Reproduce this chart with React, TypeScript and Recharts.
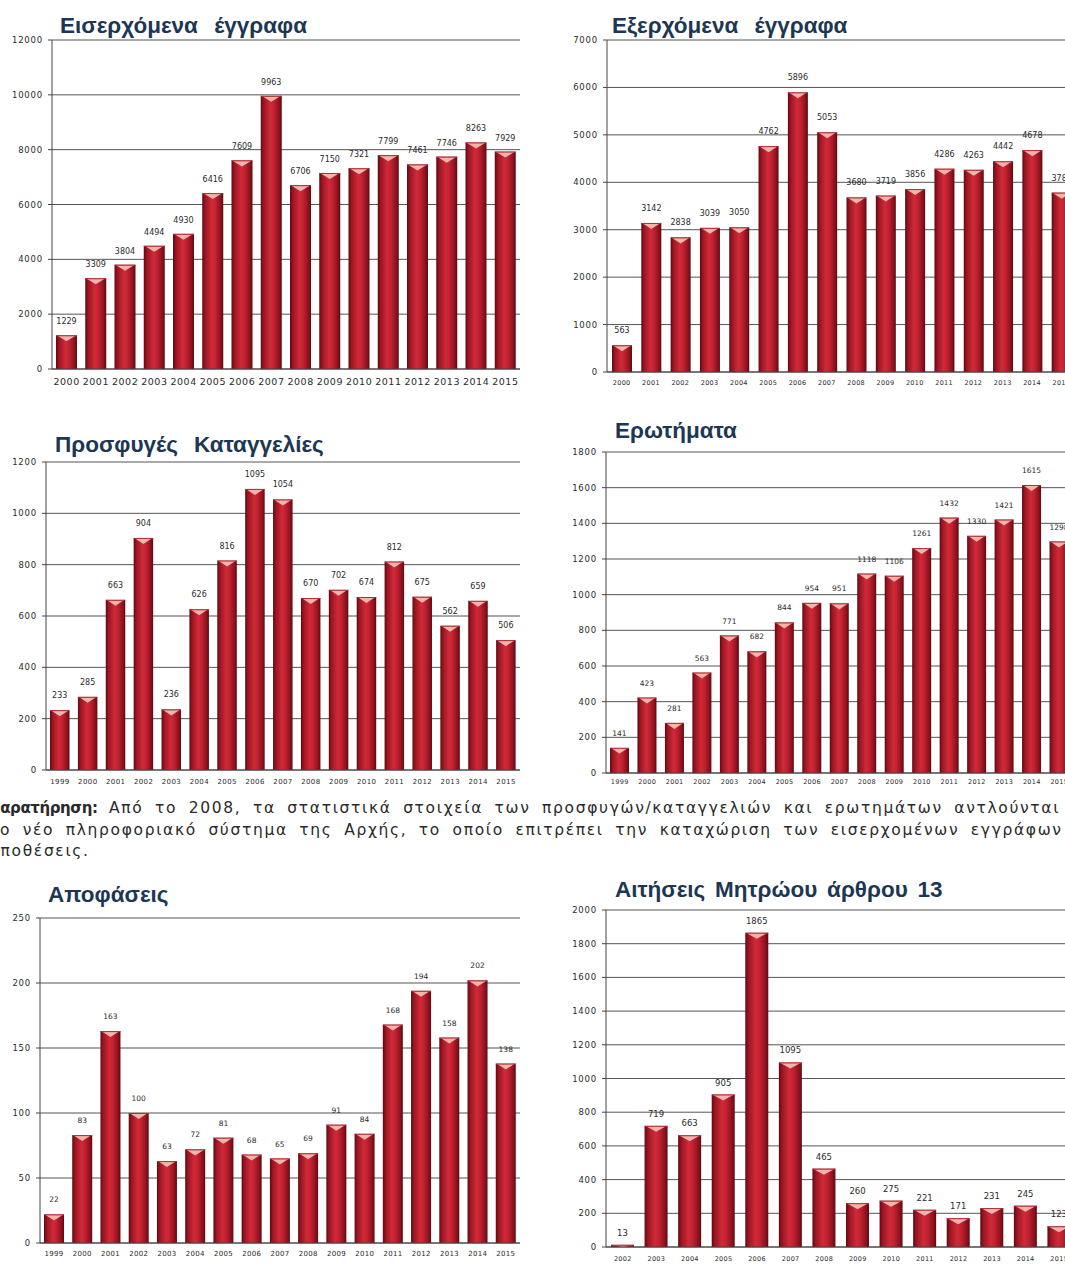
import React from 'react';
import { BarChart, Bar, XAxis, YAxis, CartesianGrid, LabelList } from 'recharts';

// Εισερχόμενα έγγραφα
const incomingYears = ['2000', '2001', '2002', '2003', '2004', '2005', '2006', '2007', '2008', '2009', '2010', '2011', '2012', '2013', '2014', '2015'];
const incomingValues = [1229, 3309, 3804, 4494, 4930, 6416, 7609, 9963, 6706, 7150, 7321, 7799, 7461, 7746, 8263, 7929];
const incomingTicks = [0, 2000, 4000, 6000, 8000, 10000, 12000];

// Εξερχόμενα έγγραφα
const outgoingYears = ['2000', '2001', '2002', '2003', '2004', '2005', '2006', '2007', '2008', '2009', '2010', '2011', '2012', '2013', '2014', '2015'];
const outgoingValues = [563, 3142, 2838, 3039, 3050, 4762, 5896, 5053, 3680, 3719, 3856, 4286, 4263, 4442, 4678, 3782];
const outgoingTicks = [0, 1000, 2000, 3000, 4000, 5000, 6000, 7000];

// Προσφυγές Καταγγελίες
const complaintYears = ['1999', '2000', '2001', '2002', '2003', '2004', '2005', '2006', '2007', '2008', '2009', '2010', '2011', '2012', '2013', '2014', '2015'];
const complaintValues = [233, 285, 663, 904, 236, 626, 816, 1095, 1054, 670, 702, 674, 812, 675, 562, 659, 506];
const complaintTicks = [0, 200, 400, 600, 800, 1000, 1200];

// Ερωτήματα
const queryYears = ['1999', '2000', '2001', '2002', '2003', '2004', '2005', '2006', '2007', '2008', '2009', '2010', '2011', '2012', '2013', '2014', '2015'];
const queryValues = [141, 423, 281, 563, 771, 682, 844, 954, 951, 1118, 1106, 1261, 1432, 1330, 1421, 1615, 1298];
const queryTicks = [0, 200, 400, 600, 800, 1000, 1200, 1400, 1600, 1800];

// Αποφάσεις
const decisionYears = ['1999', '2000', '2001', '2002', '2003', '2004', '2005', '2006', '2007', '2008', '2009', '2010', '2011', '2012', '2013', '2014', '2015'];
const decisionValues = [22, 83, 163, 100, 63, 72, 81, 68, 65, 69, 91, 84, 168, 194, 158, 202, 138];
const decisionTicks = [0, 50, 100, 150, 200, 250];

// Αιτήσεις Μητρώου άρθρου 13
const registryYears = ['2002', '2003', '2004', '2005', '2006', '2007', '2008', '2009', '2010', '2011', '2012', '2013', '2014', '2015'];
const registryValues = [13, 719, 663, 905, 1865, 1095, 465, 260, 275, 221, 171, 231, 245, 123];
const registryTicks = [0, 200, 400, 600, 800, 1000, 1200, 1400, 1600, 1800, 2000];

const TITLE_COLOR = '#1c3753';
const TEXT_COLOR = '#2b2b2b';
const GRID_COLOR = '#555';

interface PanelProps {
    id: string;
    title: string;
    titleWordSpacing: number;
    years: string[];
    values: number[];
    ticks: number[];
    plotLeft: number;
    plotTop: number;
    plotRight: number;
    plotBottom: number;
    barSize: number;
    xFont: number;
    xSpacing: number;
    xGap: number;
    yFont: number;
    labelFont: number;
    labelOffset: number;
    titleX: number;
    titleBaseline: number;
}

// bar drawn like the old Excel cylinder: dark edges, bright middle, pale cap
const CylinderBar = (props: any) => {
    const { x, y, width, height, gid } = props;
    if (!height || height <= 0) return null;
    const capH = Math.min(6, height);
    return (
        <g>
            <rect x={x} y={y} width={width} height={height} fill={`url(#${gid})`} />
            <path
                d={`M${x + 1.5},${y + 0.5} L${x + width - 1.5},${y + 0.5} L${x + width / 2},${y + capH} Z`}
                fill="#f3b4aa"
            />
            <line x1={x} x2={x + width} y1={y + 0.5} y2={y + 0.5} stroke="#b0303a" strokeWidth={1} />
        </g>
    );
};

const Panel: React.FC<PanelProps> = (p) => {
    const data = p.years.map((year, i) => ({ year, value: p.values[i] }));
    const yW = 44;
    const marginTop = 24;
    const xH = 22;
    const width = yW + (p.plotRight - p.plotLeft) + 4;
    const height = marginTop + (p.plotBottom - p.plotTop) + xH;
    const max = p.ticks[p.ticks.length - 1];
    const gid = `cyl-${p.id}`;
    return (
        <>
            <div
                style={{
                    position: 'absolute',
                    left: p.titleX,
                    top: p.titleBaseline - 18.5,
                    fontFamily: '"Liberation Sans", Arial, sans-serif',
                    fontWeight: 'bold',
                    fontSize: 22.5,
                    lineHeight: '22px',
                    wordSpacing: p.titleWordSpacing,
                    color: TITLE_COLOR,
                    whiteSpace: 'nowrap',
                }}
            >
                {p.title}
            </div>
            <div style={{ position: 'absolute', left: p.plotLeft - yW, top: p.plotTop - marginTop }}>
                <BarChart
                    width={width}
                    height={height}
                    data={data}
                    margin={{ top: marginTop, right: 4, bottom: 0, left: 0 }}
                    barCategoryGap={0}
                >
                    <defs>
                        <linearGradient id={gid} x1="0" y1="0" x2="1" y2="0">
                            <stop offset="0%" stopColor="#5c0a12" />
                            <stop offset="14%" stopColor="#9c1522" />
                            <stop offset="45%" stopColor="#cf2a38" />
                            <stop offset="62%" stopColor="#c42232" />
                            <stop offset="88%" stopColor="#8c121d" />
                            <stop offset="100%" stopColor="#5c0a12" />
                        </linearGradient>
                    </defs>
                    <CartesianGrid vertical={false} stroke={GRID_COLOR} strokeWidth={1} />
                    <XAxis
                        dataKey="year"
                        interval={0}
                        height={xH}
                        tickLine={false}
                        tickSize={0}
                        tickMargin={p.xGap}
                        axisLine={{ stroke: '#444' }}
                        tick={{ fill: TEXT_COLOR, fontSize: p.xFont, fontFamily: 'DejaVu Sans', letterSpacing: p.xSpacing }}
                    />
                    <YAxis
                        type="number"
                        domain={[0, max]}
                        ticks={p.ticks}
                        interval={0}
                        width={yW}
                        tickSize={4}
                        tickMargin={5}
                        axisLine={{ stroke: '#444' }}
                        tickLine={{ stroke: '#444' }}
                        tick={{ fill: TEXT_COLOR, fontSize: p.yFont, fontFamily: 'DejaVu Sans', letterSpacing: 0.8 }}
                    />
                    <Bar
                        dataKey="value"
                        barSize={p.barSize}
                        isAnimationActive={false}
                        shape={(sp: any) => <CylinderBar {...sp} gid={gid} />}
                    >
                        <LabelList
                            dataKey="value"
                            position="top"
                            offset={p.labelOffset}
                            fill={TEXT_COLOR}
                            fontSize={p.labelFont}
                            fontFamily="DejaVu Sans"
                        />
                    </Bar>
                </BarChart>
            </div>
        </>
    );
};

const noteStyle: React.CSSProperties = {
    position: 'absolute',
    fontFamily: '"DejaVu Sans", Verdana, sans-serif',
    fontSize: 15.5,
    lineHeight: '21.7px',
    letterSpacing: 1.65,
    wordSpacing: 5,
    color: '#2a2a2a',
    whiteSpace: 'nowrap',
};

export default function App() {
    return (
        <div
            style={{
                position: 'absolute',
                left: 0,
                top: 0,
                width: 1065,
                height: 1265,
                overflow: 'hidden',
                background: '#fff',
            }}
        >
            <Panel
                id="in" title="Εισερχόμενα έγγραφα" titleWordSpacing={10} years={incomingYears} values={incomingValues} ticks={incomingTicks}
                plotLeft={52} plotTop={40} plotRight={520} plotBottom={369}
                barSize={21} xFont={9.5} xSpacing={0.5} xGap={9} yFont={8.5} labelFont={8} labelOffset={11}
                titleX={60} titleBaseline={33}
            />
            <Panel
                id="out" title="Εξερχόμενα έγγραφα" titleWordSpacing={10} years={outgoingYears} values={outgoingValues} ticks={outgoingTicks}
                plotLeft={607} plotTop={40} plotRight={1076} plotBottom={372}
                barSize={20} xFont={6.5} xSpacing={0.3} xGap={8} yFont={8.5} labelFont={8} labelOffset={12}
                titleX={612} titleBaseline={33}
            />
            <Panel
                id="comp" title="Προσφυγές Καταγγελίες" titleWordSpacing={10} years={complaintYears} values={complaintValues} ticks={complaintTicks}
                plotLeft={46} plotTop={462} plotRight={520} plotBottom={770}
                barSize={19.5} xFont={7} xSpacing={0.4} xGap={9} yFont={8.5} labelFont={8} labelOffset={12}
                titleX={55} titleBaseline={452}
            />
            <Panel
                id="q" title="Ερωτήματα" titleWordSpacing={0} years={queryYears} values={queryValues} ticks={queryTicks}
                plotLeft={606} plotTop={452} plotRight={1073} plotBottom={773}
                barSize={19} xFont={6.5} xSpacing={0.3} xGap={6} yFont={8.5} labelFont={7.5} labelOffset={12}
                titleX={615} titleBaseline={438}
            />
            <div style={{ ...noteStyle, left: -12, top: 798 }}>
                <b style={{ letterSpacing: -0.4, fontSize: 15 }}>Παρατήρηση:</b> Από το 2008, τα στατιστικά στοιχεία των προσφυγών/καταγγελιών και ερωτημάτων αντλούνται από
            </div>
            <div style={{ ...noteStyle, left: -11, top: 820 }}>
                το νέο πληροφοριακό σύστημα της Αρχής, το οποίο επιτρέπει την καταχώριση των εισερχομένων εγγράφων και
            </div>
            <div style={{ ...noteStyle, left: -10, top: 841 }}>
                υποθέσεις.
            </div>
            <Panel
                id="dec" title="Αποφάσεις" titleWordSpacing={0} years={decisionYears} values={decisionValues} ticks={decisionTicks}
                plotLeft={40} plotTop={918} plotRight={520} plotBottom={1243}
                barSize={20} xFont={7} xSpacing={0.3} xGap={8} yFont={8.5} labelFont={7.5} labelOffset={12}
                titleX={48} titleBaseline={902}
            />
            <Panel
                id="reg" title="Αιτήσεις Μητρώου άρθρου 13" titleWordSpacing={3.5} years={registryYears} values={registryValues} ticks={registryTicks}
                plotLeft={606} plotTop={910} plotRight={1076} plotBottom={1247}
                barSize={23} xFont={6.5} xSpacing={0.3} xGap={9} yFont={8.5} labelFont={8.5} labelOffset={9}
                titleX={615} titleBaseline={897}
            />
        </div>
    );
}
